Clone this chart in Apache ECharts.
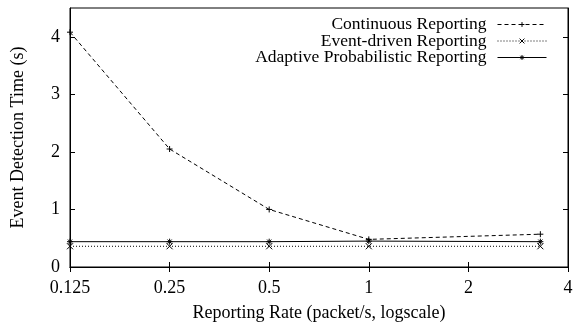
<!DOCTYPE html>
<html><head><meta charset="utf-8">
<script src="https://cdn.jsdelivr.net/npm/echarts@6/dist/echarts.min.js"></script>
<style>html,body{margin:0;padding:0;background:#fff}#c{width:576px;height:329px}</style>
</head><body><div id="c"></div>
<script>
const rates = [0.125, 0.25, 0.5, 1, 3.3];
const continuous = [4.08, 2.05, 1.0, 0.48, 0.57];
const eventDriven = [0.36, 0.36, 0.36, 0.36, 0.36];
const adaptive = [0.44, 0.44, 0.44, 0.45, 0.44];
const xTicks = [0.125, 0.25, 0.5, 1, 2, 4];
const yTicks = [0, 1, 2, 3, 4];

const FONT = 'Liberation Serif';
const plus = 'path://M0,5L10,5M5,0L5,10';
const cross = 'path://M1,1L9,9M9,1L1,9';
const star = 'path://M0,5L10,5M5,0L5,10M1.5,1.5L8.5,8.5M8.5,1.5L1.5,8.5';

function pts(ys){ return rates.map((x,i)=>[x, ys[i]]); }
function mk(name, ys, sym, dash){
  return {
    name, type:'line', data: pts(ys), symbol: sym, symbolSize: 6,
    lineStyle:{color:'#000', width:1, type: dash},
    itemStyle:{color:'none', borderColor:'#000', borderWidth:1},
    emphasis:{disabled:true}, animation:false, z: 3
  };
}
const chart = echarts.init(document.getElementById('c'), null, {renderer:'canvas'});
const tickStyle = {show:true, inside:true, length:5, lineStyle:{color:'#000', width:1}};
chart.setOption({
  animation:false,
  textStyle:{fontFamily:FONT},
  grid:{left:70, right:8, top:8, bottom:62, show:true, borderColor:'#000', borderWidth:1, backgroundColor:'transparent'},
  legend:{
    right:24, top:10.5, orient:'vertical', align:'right', itemGap:-1.5, itemWidth:49, itemHeight:6,
    textStyle:{fontFamily:FONT, fontSize:17.5, lineHeight:17, color:'#000', padding:[0,6,0,0]},
    lineStyle:{width:1}, itemStyle:{borderWidth:1},
    data:['Continuous Reporting','Event-driven Reporting','Adaptive Probabilistic Reporting']
  },
  xAxis:[{
    type:'log', logBase:2, min:0.125, max:4,
    name:'Reporting Rate (packet/s, logscale)', nameLocation:'middle', nameGap:37,
    nameTextStyle:{fontFamily:FONT, fontSize:18, color:'#000'},
    axisLine:{show:true, lineStyle:{color:'#000', width:1}},
    axisTick:Object.assign({customValues:xTicks}, tickStyle),
    axisLabel:{customValues:xTicks, fontFamily:FONT, fontSize:18, color:'#000', margin:12,
      formatter:v=>String(+v.toFixed(3))},
    splitLine:{show:false}, minorTick:{show:false}
  },{
    type:'log', logBase:2, min:0.125, max:4, position:'top',
    axisLine:{show:true, lineStyle:{color:'#000'}},
    axisTick:Object.assign({customValues:xTicks}, tickStyle),
    axisLabel:{show:false}, splitLine:{show:false}
  }],
  yAxis:[{
    type:'value', min:0, max:4.5,
    name:'Event Detection Time (s)', nameLocation:'middle', nameGap:43,
    nameTextStyle:{fontFamily:FONT, fontSize:18, color:'#000'},
    axisLine:{show:true, lineStyle:{color:'#000', width:1}},
    axisTick:Object.assign({customValues:yTicks}, tickStyle),
    axisLabel:{customValues:yTicks, fontFamily:FONT, fontSize:18, color:'#000', margin:10},
    splitLine:{show:false}
  },{
    type:'value', min:0, max:4.5, position:'right',
    axisLine:{show:true, lineStyle:{color:'#000'}},
    axisTick:Object.assign({customValues:yTicks}, tickStyle),
    axisLabel:{show:false}, splitLine:{show:false}
  }],
  series:[
    mk('Continuous Reporting', continuous, plus, [4,3]),
    mk('Event-driven Reporting', eventDriven, cross, [1,2]),
    mk('Adaptive Probabilistic Reporting', adaptive, star, 'solid')
  ]
});
</script></body></html>
